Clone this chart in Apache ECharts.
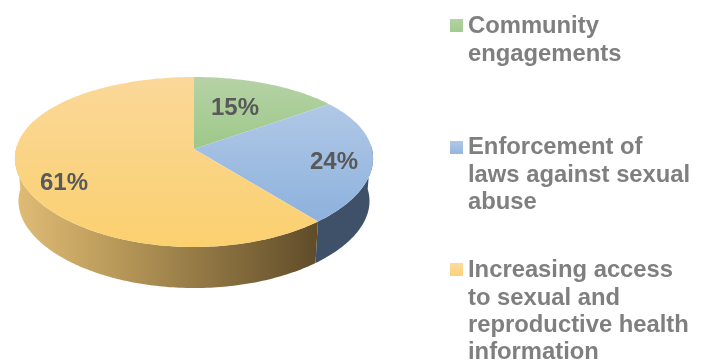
<!DOCTYPE html>
<html>
<head>
<meta charset="utf-8">
<style>html,body{margin:0;padding:0;background:#fff}#chart{width:701px;height:360px}</style>
<script src="https://cdn.jsdelivr.net/npm/echarts@6/dist/echarts.min.js"></script>
</head>
<body>
<div id="chart"></div>
<script>
// Slice data, clockwise from twelve o'clock
const categories = [
  'Community\nengagements',
  'Enforcement of\nlaws against sexual\nabuse',
  'Increasing access\nto sexual and\nreproductive health\ninformation'
];
const shares = [15, 24, 61];

// Per-slice paint
const topStops = [
  ['#b6d2a6', '#9dc888'],
  ['#b0c8e6', '#8cb1dd'],
  ['#fad899', '#fbd06f']
];
const topSpans = [[77, 150], [105, 224], [77, 247]];
const wallStops = [
  [[0, '#5c7a4a'], [1, '#5c7a4a']],
  [[0, '#3d4d60'], [1, '#3e5168']],
  [[0, '#e0bc76'], [0.3, '#bd9d5c'], [1, '#604c29']]
];
const swatchStops = [['#b4d2a3', '#a2ca8e'], ['#b0c8e6', '#93b6df'], ['#fcdc9e', '#fbd078']];

// Layout of the tilted disc: a circle under a simple perspective projection
const cx = 194, cy = 149, radX = 178, radY = 83, kx = 0.11, ky = 0.153;
const wallScale = 0.98, wallDrop = 43;
// Only this stretch of the rim faces the viewer
const wallFrom = 88, wallTo = 272;
const labelAt = [[235, 108], [334, 162], [64, 183]];
const legendY = [[19, 13], [141, 134], [263, 257]];

function rim(deg, scale, drop) {
  const t = deg * Math.PI / 180, u = Math.sin(t), v = Math.cos(t);
  return [
    cx + scale * radX * u / (1 + kx * v),
    cy + drop - scale * radY * v / (1 + ky * v)
  ];
}

function arc(from, to, scale, drop) {
  const pts = [];
  const steps = Math.max(2, Math.ceil(Math.abs(to - from)));
  for (let i = 0; i <= steps; i++) {
    pts.push(rim(from + (to - from) * i / steps, scale, drop));
  }
  return pts;
}

const total = shares.reduce((a, b) => a + b, 0);
function sliceAngles(i) {
  let before = 0;
  for (let j = 0; j < i; j++) before += shares[j];
  return [before / total * 360, (before + shares[i]) / total * 360];
}

function renderWall(params) {
  const i = params.dataIndex;
  const [a0, b0] = sliceAngles(i);
  const a = Math.max(a0, wallFrom), b = Math.min(b0, wallTo);
  if (b <= a) return null;
  const front = arc(a, b, 1, 0).concat(arc(b, a, wallScale, wallDrop));
  return {
    type: 'polygon',
    shape: { points: front },
    style: {
      fill: new echarts.graphic.LinearGradient(15, 0, 317, 0, wallStops[i].map(s => ({ offset: s[0], color: s[1] })), true)
    }
  };
}

function renderTop(params) {
  const i = params.dataIndex;
  const [a, b] = sliceAngles(i);
  const span = topSpans[i];
  return {
    type: 'group',
    children: [
      {
        type: 'polygon',
        shape: { points: [[cx, cy]].concat(arc(a, b, 1, 0)) },
        style: {
          fill: new echarts.graphic.LinearGradient(0, span[0], 0, span[1], [
            { offset: 0, color: topStops[i][0] },
            { offset: 1, color: topStops[i][1] }
          ], true)
        }
      },
      {
        type: 'text',
        z2: 10,
        style: {
          text: Math.round(shares[i] / total * 100) + '%',
          x: labelAt[i][0],
          y: labelAt[i][1],
          align: 'center',
          verticalAlign: 'middle',
          fill: '#595959',
          font: 'bold 24px "Liberation Sans", Arial, sans-serif'
        }
      }
    ]
  };
}

const legendItems = [];
categories.forEach((name, i) => {
  legendItems.push({
    type: 'rect',
    shape: { x: 450, y: legendY[i][0], width: 13, height: 13 },
    style: {
      fill: new echarts.graphic.LinearGradient(0, 0, 0, 1, [
        { offset: 0, color: swatchStops[i][0] },
        { offset: 1, color: swatchStops[i][1] }
      ])
    }
  });
  legendItems.push({
    type: 'text',
    style: {
      text: name,
      x: 468,
      y: legendY[i][1],
      align: 'left',
      verticalAlign: 'top',
      lineHeight: 27.4,
      fill: '#7f7f7f',
      font: 'bold 23.8px "Liberation Sans", Arial, sans-serif'
    }
  });
});

const chart = echarts.init(document.getElementById('chart'), null, { renderer: 'canvas' });
chart.setOption({
  animation: false,
  backgroundColor: '#ffffff',
  graphic: { elements: legendItems },
  series: [
    { type: 'custom', coordinateSystem: 'none', silent: true, z: 1, renderItem: renderWall, data: shares },
    { type: 'custom', coordinateSystem: 'none', silent: true, z: 2, renderItem: renderTop, data: shares }
  ]
});
</script>
</body>
</html>
